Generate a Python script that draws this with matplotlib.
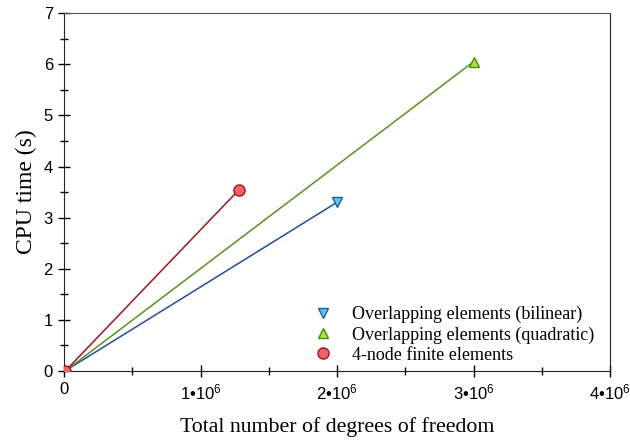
import matplotlib
matplotlib.use('Agg')
import matplotlib.pyplot as plt
from matplotlib.ticker import MultipleLocator, FuncFormatter

# CPU time vs. total degrees of freedom
dof_bilinear = [20000, 2.0e6]
cpu_bilinear = [0.02, 3.30]
dof_quadratic = [20000, 3.0e6]
cpu_quadratic = [0.02, 6.05]
dof_fem = [10000, 1.28e6]
cpu_fem = [0.0, 3.54]

labels = ['Overlapping elements (bilinear)',
          'Overlapping elements (quadratic)',
          '4-node finite elements']

plt.rcParams['mathtext.fontset'] = 'custom'
plt.rcParams['mathtext.rm'] = 'Liberation Sans'
plt.rcParams['mathtext.it'] = 'Liberation Sans'

fig = plt.figure(figsize=(6.3, 4.4), dpi=100)
ax = fig.add_axes([0.1016, 0.157, 0.8667, 0.813])

ax.plot(dof_bilinear, cpu_bilinear, color='#1f4f9c', lw=1.1, zorder=2)
ax.plot(dof_quadratic, cpu_quadratic, color='#55961a', lw=1.1, zorder=2)
ax.plot(dof_fem, cpu_fem, color='#a0141e', lw=1.1, zorder=2)

# markers only on the end points of each series
ax.plot(dof_bilinear[1:], cpu_bilinear[1:], 'v', ms=7, mfc='#5cc3f2', mec='#1d5c9e', mew=1, zorder=3)
ax.plot(dof_quadratic[1:], cpu_quadratic[1:], '^', ms=7, mfc='#a9e23c', mec='#4f8c12', mew=1, zorder=3)
ax.plot(dof_fem, cpu_fem, 'o', ms=8, mfc='#f26464', mec='#a0141e', mew=1, zorder=3)

# legend entries (markers only)
h1, = ax.plot([], [], 'v', ms=7, mfc='#5cc3f2', mec='#1d5c9e', mew=1)
h2, = ax.plot([], [], '^', ms=7, mfc='#a9e23c', mec='#4f8c12', mew=1)
h3, = ax.plot([], [], 'o', ms=8, mfc='#f26464', mec='#a0141e', mew=1)
leg = ax.legend([h1, h2, h3], labels, loc='lower left', frameon=False,
                prop={'family': 'Liberation Serif', 'size': 13},
                bbox_to_anchor=(0.435, -0.015), handlelength=1.0,
                handletextpad=1.1, labelspacing=0.17, borderpad=0.2)

ax.set_xlim(0, 4e6)
ax.set_ylim(0, 7)
ax.xaxis.set_major_locator(MultipleLocator(1e6))
ax.xaxis.set_minor_locator(MultipleLocator(0.5e6))
ax.yaxis.set_major_locator(MultipleLocator(1))
ax.yaxis.set_minor_locator(MultipleLocator(0.5))


def fmt_x(v, pos):
    if v == 0:
        return '0'
    return '%d•10$^{6}$' % round(v / 1e6)


ax.xaxis.set_major_formatter(FuncFormatter(fmt_x))

ax.tick_params(which='both', direction='inout', top=False, right=False,
               labelsize=12, width=1)
ax.tick_params(which='major', length=9)
ax.tick_params(which='minor', length=6)
for lab in ax.get_xticklabels() + ax.get_yticklabels():
    lab.set_family('Liberation Sans')

for s in ['left', 'bottom', 'right']:
    ax.spines[s].set_color('#222222')
ax.spines['top'].set_color('#555555')

ax.set_xlabel('Total number of degrees of freedom', family='Liberation Serif',
              fontsize=15.7, labelpad=11)
ax.set_ylabel('CPU time (s)', family='Liberation Serif', fontsize=17, labelpad=5)

fig.savefig('out.png', dpi=100)
